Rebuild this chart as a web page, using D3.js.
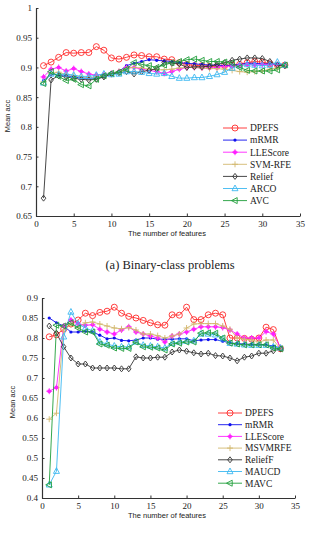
<!DOCTYPE html>
<html>
<head>
<meta charset="utf-8">
<script src="https://cdn.jsdelivr.net/npm/d3@7"></script>
<style>
  body { margin: 0; background: #fff; }
  svg { display: block; }
</style>
</head>
<body>
<div id="chart"></div>
<script>
// features 1..33
var features = d3.range(1, 34)

// (a) binary-class problems
var binNames = ["DPEFS", "mRMR", "LLEScore", "SVM-RFE", "Relief", "ARCO", "AVC"]
var binDPEFS = [0.903,0.909,0.917,0.925,0.924,0.925,0.925,0.935,0.929,0.916,0.914,0.917,0.921,0.920,0.918,0.918,0.914,0.913,0.908,0.905,0.903,0.903,0.902,0.902,0.903,0.904,0.905,0.908,0.910,0.909,0.906,0.904,0.904]
var binMRMR = [0.878,0.888,0.888,0.886,0.884,0.882,0.882,0.882,0.884,0.888,0.893,0.903,0.907,0.910,0.913,0.912,0.911,0.910,0.908,0.907,0.906,0.905,0.904,0.904,0.903,0.904,0.905,0.907,0.907,0.906,0.906,0.905,0.903]
var binLLE = [0.884,0.897,0.900,0.894,0.898,0.893,0.889,0.887,0.888,0.890,0.893,0.900,0.900,0.897,0.895,0.893,0.890,0.893,0.897,0.900,0.900,0.899,0.899,0.900,0.902,0.902,0.904,0.905,0.904,0.905,0.905,0.904,0.903]
var binSVM = [0.876,0.890,0.892,0.888,0.886,0.884,0.883,0.884,0.885,0.888,0.893,0.898,0.900,0.899,0.897,0.896,0.896,0.897,0.899,0.900,0.900,0.899,0.898,0.898,0.897,0.895,0.893,0.892,0.893,0.894,0.897,0.899,0.903]
var binRelief = [0.680,0.879,0.886,0.884,0.882,0.880,0.879,0.880,0.884,0.889,0.891,0.893,0.889,0.893,0.895,0.898,0.908,0.907,0.906,0.900,0.901,0.901,0.902,0.905,0.908,0.912,0.914,0.916,0.916,0.915,0.910,0.904,0.903]
var binARCO = [0.874,0.889,0.888,0.889,0.887,0.885,0.885,0.887,0.889,0.888,0.889,0.893,0.893,0.892,0.890,0.889,0.890,0.885,0.882,0.882,0.883,0.883,0.885,0.888,0.892,0.899,0.903,0.905,0.904,0.903,0.904,0.909,0.904]
var binAVC = [0.873,0.893,0.885,0.878,0.880,0.871,0.869,0.880,0.886,0.890,0.892,0.897,0.908,0.905,0.903,0.900,0.904,0.908,0.910,0.913,0.914,0.912,0.910,0.910,0.909,0.907,0.900,0.895,0.894,0.894,0.894,0.896,0.904]
var binTicksY = [0.65, 0.7, 0.75, 0.8, 0.85, 0.9, 0.95, 1]

// (b) multi-class problems
var mulNames = ["DPEFS", "mRMR", "LLEScore", "MSVMRFE", "ReliefF", "MAUCD", "MAVC"]
var mulDPEFS = [0.803,0.808,0.822,0.835,0.845,0.862,0.856,0.864,0.867,0.877,0.862,0.854,0.850,0.844,0.838,0.833,0.832,0.858,0.857,0.877,0.846,0.846,0.858,0.862,0.858,0.800,0.800,0.799,0.797,0.800,0.827,0.821,0.773]
var mulMRMR = [0.850,0.838,0.830,0.815,0.815,0.817,0.815,0.807,0.798,0.800,0.794,0.793,0.795,0.800,0.800,0.797,0.797,0.797,0.798,0.798,0.793,0.795,0.796,0.796,0.792,0.788,0.786,0.785,0.784,0.784,0.783,0.780,0.775]
var mulLLE = [0.667,0.676,0.830,0.845,0.835,0.832,0.833,0.822,0.815,0.810,0.820,0.828,0.815,0.810,0.805,0.800,0.790,0.805,0.810,0.815,0.822,0.828,0.828,0.828,0.826,0.820,0.810,0.800,0.800,0.800,0.816,0.810,0.775]
var mulSVM = [0.597,0.612,0.820,0.833,0.826,0.838,0.840,0.835,0.830,0.825,0.823,0.826,0.820,0.810,0.810,0.806,0.800,0.805,0.810,0.825,0.835,0.836,0.836,0.836,0.830,0.822,0.800,0.797,0.795,0.790,0.795,0.795,0.773]
var mulRelief = [0.830,0.812,0.778,0.750,0.735,0.735,0.725,0.725,0.725,0.725,0.723,0.723,0.753,0.750,0.750,0.752,0.752,0.765,0.770,0.767,0.763,0.760,0.762,0.756,0.755,0.750,0.743,0.752,0.755,0.762,0.762,0.768,0.773]
var mulMAUCD = [0.433,0.467,0.803,0.865,0.835,0.825,0.818,0.790,0.785,0.780,0.778,0.778,0.790,0.782,0.780,0.778,0.775,0.787,0.790,0.792,0.793,0.810,0.810,0.808,0.798,0.787,0.785,0.783,0.782,0.782,0.782,0.778,0.775]
var mulMAVC = [0.433,0.832,0.830,0.838,0.825,0.815,0.815,0.785,0.782,0.775,0.774,0.774,0.790,0.778,0.777,0.775,0.770,0.785,0.787,0.790,0.790,0.812,0.813,0.812,0.800,0.787,0.785,0.783,0.783,0.783,0.783,0.775,0.773]
var mulTicksY = [0.4, 0.45, 0.5, 0.55, 0.6, 0.65, 0.7, 0.75, 0.8, 0.85, 0.9]

var ticksX = [0, 5, 10, 15, 20, 25, 30, 35]

var colors = ["#ff2a2a", "#1010ee", "#ff20ff", "#d2b86e", "#333333", "#3cb8f0", "#1f9e3a"]
var markers = ["circle", "dot", "star", "plus", "diamond", "triUp", "triLeft"]

var svg = d3.select("#chart").append("svg")
    .attr("width", 314)
    .attr("height", 538)

function drawMarker(g, kind, cx, cy, color) {
  var r = 3
  if (kind == "circle") {
    g.append("circle").attr("cx", cx).attr("cy", cy).attr("r", r)
      .attr("fill", "none").attr("stroke", color).attr("stroke-width", 0.9)
  } else if (kind == "dot") {
    g.append("circle").attr("cx", cx).attr("cy", cy).attr("r", 1.6).attr("fill", color)
  } else if (kind == "star") {
    g.append("circle").attr("cx", cx).attr("cy", cy).attr("r", 2).attr("fill", color)
    g.append("path").attr("d", "M" + (cx - r) + "," + cy + "h" + (2 * r) + "M" + cx + "," + (cy - r) + "v" + (2 * r))
      .attr("stroke", color).attr("stroke-width", 0.9)
  } else if (kind == "plus") {
    g.append("path").attr("d", "M" + (cx - r) + "," + cy + "h" + (2 * r) + "M" + cx + "," + (cy - r) + "v" + (2 * r))
      .attr("stroke", color).attr("stroke-width", 0.9)
  } else if (kind == "diamond") {
    g.append("path").attr("d", "M" + cx + "," + (cy - r) + "L" + (cx + 2.3) + "," + cy + "L" + cx + "," + (cy + r) + "L" + (cx - 2.3) + "," + cy + "Z")
      .attr("fill", "none").attr("stroke", color).attr("stroke-width", 0.9)
  } else if (kind == "triUp") {
    g.append("path").attr("d", "M" + cx + "," + (cy - r - 0.5) + "L" + (cx + r) + "," + (cy + r - 0.8) + "L" + (cx - r) + "," + (cy + r - 0.8) + "Z")
      .attr("fill", "none").attr("stroke", color).attr("stroke-width", 0.9)
  } else if (kind == "triLeft") {
    g.append("path").attr("d", "M" + (cx - r - 0.5) + "," + cy + "L" + (cx + r - 0.8) + "," + (cy - r) + "L" + (cx + r - 0.8) + "," + (cy + r) + "Z")
      .attr("fill", "none").attr("stroke", color).attr("stroke-width", 0.9)
  }
}

function drawChart(opt) {
  var x = d3.scaleLinear().domain([0, 35]).range([opt.left, opt.right])
  var y = d3.scaleLinear().domain(opt.yDomain).range([opt.bottom, opt.top])
  var g = svg.append("g")

  // axes: ticks point inward, only left and bottom
  g.append("g")
      .attr("transform", "translate(0," + opt.bottom + ")")
      .call(d3.axisBottom(x).tickValues(ticksX).tickSizeInner(-2.5).tickSizeOuter(0).tickPadding(5).tickFormat(d3.format("d")))
  g.append("g")
      .attr("transform", "translate(" + opt.left + ",0)")
      .call(d3.axisLeft(y).tickValues(opt.yTicks).tickSizeInner(-2.5).tickSizeOuter(0).tickPadding(4).tickFormat(function(d){ return String(+d.toFixed(2)) }))
  g.selectAll(".domain").attr("stroke", "#333").attr("stroke-width", 1.2)
  g.selectAll(".tick line").attr("stroke", "#333")
  g.selectAll(".tick text")
      .style("font-family", "'Liberation Serif', 'Times New Roman', serif")
      .style("font-size", "9px")
      .attr("fill", "#222")

  var line = d3.line()
      .x(function(d, i){ return x(features[i]) })
      .y(function(d){ return y(d) })

  opt.series.forEach(function(s, k) {
    var sg = g.append("g")
    sg.append("path")
        .datum(s)
        .attr("fill", "none")
        .attr("stroke", colors[k])
        .attr("stroke-width", 0.9)
        .attr("d", line)
    s.forEach(function(v, i) {
      drawMarker(sg, markers[k], x(features[i]), y(v), colors[k])
    })
  })

  // legend
  opt.names.forEach(function(name, k) {
    var ly = opt.legendY + k * opt.legendStep
    g.append("line")
        .attr("x1", opt.legendX).attr("x2", opt.legendX + 24)
        .attr("y1", ly).attr("y2", ly)
        .attr("stroke", colors[k]).attr("stroke-width", 0.9)
    drawMarker(g, markers[k], opt.legendX + 12, ly, colors[k])
    g.append("text")
        .attr("x", opt.legendX + 27)
        .attr("y", ly)
        .attr("dy", "0.35em")
        .text(name)
        .style("font-family", "'Liberation Serif', 'Times New Roman', serif")
        .style("font-size", "9.5px")
        .attr("fill", "#222")
  })

  // axis titles
  g.append("text")
      .attr("x", 167)
      .attr("y", opt.bottom + 20)
      .attr("text-anchor", "middle")
      .text("The number of features")
      .style("font-family", "'Liberation Sans', Arial, sans-serif")
      .style("font-size", "7.5px")
      .attr("fill", "#222")
  g.append("text")
      .attr("transform", "translate(" + opt.yLabelX + "," + ((opt.top + opt.bottom) / 2 + 4) + ") rotate(-90)")
      .attr("text-anchor", "middle")
      .text("Mean  acc")
      .style("font-family", "'Liberation Sans', Arial, sans-serif")
      .style("font-size", "7.5px")
      .attr("fill", "#222")

  if (opt.caption) {
    g.append("text")
        .attr("x", 170)
        .attr("y", opt.captionY)
        .attr("text-anchor", "middle")
        .text(opt.caption)
        .style("font-family", "'Liberation Serif', 'Times New Roman', serif")
        .style("font-size", "12.5px")
        .attr("fill", "#222")
  }
}

drawChart({
  left: 36, right: 300, top: 8, bottom: 216,
  yDomain: [0.65, 1], yTicks: binTicksY,
  series: [binDPEFS, binMRMR, binLLE, binSVM, binRelief, binARCO, binAVC],
  names: binNames,
  legendX: 223, legendY: 128, legendStep: 12.1,
  yLabelX: 10,
  caption: "(a) Binary-class problems", captionY: 269
})

drawChart({
  left: 42, right: 295, top: 298, bottom: 498,
  yDomain: [0.4, 0.9], yTicks: mulTicksY,
  series: [mulDPEFS, mulMRMR, mulLLE, mulSVM, mulRelief, mulMAUCD, mulMAVC],
  names: mulNames,
  legendX: 218, legendY: 413, legendStep: 11.7,
  yLabelX: 15
})
</script>
</body>
</html>
